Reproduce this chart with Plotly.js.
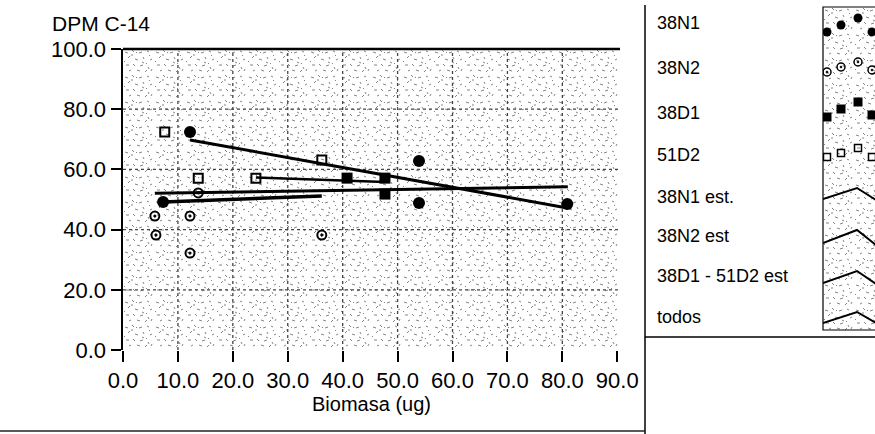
<!DOCTYPE html>
<html>
<head>
<meta charset="utf-8">
<script src="https://cdn.plot.ly/plotly-3.0.1.min.js"></script>
<style>html,body{margin:0;padding:0;background:#fff;}#chart{width:875px;height:434px;}</style>
</head>
<body>
<div id="chart"></div>
<script>
// ---- data ----
const x38N1 = [7.3, 12.2, 53.9, 53.9, 80.9];
const y38N1 = [49.2, 72.4, 62.8, 48.8, 48.5];
const x38N2 = [5.8, 6.0, 12.2, 12.2, 13.7, 36.2];
const y38N2 = [44.5, 38.2, 44.5, 32.2, 52.2, 38.2];
const x38D1 = [40.8, 47.7, 47.7];
const y38D1 = [57.1, 57.1, 51.8];
const x51D2 = [7.6, 13.7, 24.2, 36.2];
const y51D2 = [72.4, 57.1, 57.1, 63.1];

const xEst38N1 = [12.2, 80.9];
const yEst38N1 = [69.8, 47.2];
const xEst38N2 = [7.3, 36.2];
const yEst38N2 = [49.2, 51.2];
const xEst38D1_51D2 = [24.2, 47.7];
const yEst38D1_51D2 = [57.3, 55.8];
const xTodos = [5.8, 81.0];
const yTodos = [52.1, 54.2];

const xTickVals = [0, 10, 20, 30, 40, 50, 60, 70, 80, 90];
const xTickText = ['0.0','10.0','20.0','30.0','40.0','50.0','60.0','70.0','80.0','90.0'];
const yTickVals = [0, 20, 40, 60, 80, 100];
const yTickText = ['0.0','20.0','40.0','60.0','80.0','100.0'];

const legendNames = ['38N1','38N2','38D1','51D2','38N1 est.','38N2 est','38D1 - 51D2 est','todos'];

// legend swatch sample shapes (pixel space of the swatch box)
const swMarkX = [827, 841, 858, 872];
const swY38N1 = [32, 25, 18, 32];
const swY38N2 = [72, 67, 62, 70];
const swY38D1 = [117, 109, 102, 115];
const swY51D2 = [157, 153, 148, 157];
const swLineX = [823, 857, 876];
const swYEst38N1 = [199, 188, 200];
const swYEst38N2 = [243, 230, 245];
const swYEst38D1 = [283, 271, 284];
const swYTodos = [323, 312, 323];

// ---- styling ----
const FONT = 'Liberation Sans, Arial, sans-serif';
const W = 875, H = 434;
const PL = 123, PR = 620, PT = 49, PB = 350;
const px = v => v / W;
const py = v => (H - v) / H;

function texture(w, h) {
  const tile = 'M2 3l3 1M9 1l2 2M16 4l3-1M24 2l2 1M5 9l2-2M12 10l3 1M20 8l1 2M27 11l2-1' +
               'M3 16l3 0M10 15l2 2M17 17l3-1M25 18l1 2M6 22l2-1M14 21l3 1M22 23l2-2M29 20l-1 2' +
               'M1 12l1 1M8 6l2 0M19 13l2 1M26 6l1 1M13 3l1 1M23 15l1-1';
  const svg = '<svg xmlns="http://www.w3.org/2000/svg" width="' + w + '" height="' + h + '">' +
    '<defs><pattern id="p" width="31" height="25" patternUnits="userSpaceOnUse">' +
    '<path d="' + tile + '" stroke="#777" stroke-width="0.9" fill="none"/></pattern></defs>' +
    '<rect width="100%" height="100%" fill="#fff"/><rect width="100%" height="100%" fill="url(#p)"/></svg>';
  return 'data:image/svg+xml;charset=utf-8,' + encodeURIComponent(svg);
}

const traces = [
  {x: xEst38N1, y: yEst38N1, mode: 'lines', name: legendNames[4], line: {color: '#000', width: 3}},
  {x: xEst38N2, y: yEst38N2, mode: 'lines', name: legendNames[5], line: {color: '#000', width: 3.5}},
  {x: xEst38D1_51D2, y: yEst38D1_51D2, mode: 'lines', name: legendNames[6], line: {color: '#000', width: 2.5}},
  {x: xTodos, y: yTodos, mode: 'lines', name: legendNames[7], line: {color: '#000', width: 3}},
  {x: x38N1, y: y38N1, mode: 'markers', name: legendNames[0], marker: {symbol: 'circle', size: 12, color: '#000'}},
  {x: x38N2, y: y38N2, mode: 'markers', name: legendNames[1], marker: {symbol: 'circle-open-dot', size: 9, color: '#000', line: {width: 2, color: '#000'}}},
  {x: x38D1, y: y38D1, mode: 'markers', name: legendNames[2], marker: {symbol: 'square', size: 11, color: '#000'}},
  {x: x51D2, y: y51D2, mode: 'markers', name: legendNames[3], marker: {symbol: 'square-open', size: 9, color: '#000', line: {width: 2, color: '#000'}}},
  // legend swatches
  {x: swMarkX, y: swY38N1, xaxis: 'x2', yaxis: 'y2', mode: 'markers', marker: {symbol: 'circle', size: 9, color: '#000'}},
  {x: swMarkX, y: swY38N2, xaxis: 'x2', yaxis: 'y2', mode: 'markers', marker: {symbol: 'circle-open-dot', size: 8, color: '#000', line: {width: 1.5, color: '#000'}}},
  {x: swMarkX, y: swY38D1, xaxis: 'x2', yaxis: 'y2', mode: 'markers', marker: {symbol: 'square', size: 9, color: '#000'}},
  {x: swMarkX, y: swY51D2, xaxis: 'x2', yaxis: 'y2', mode: 'markers', marker: {symbol: 'square-open', size: 7, color: '#000', line: {width: 1.5, color: '#000'}}},
  {x: swLineX, y: swYEst38N1, xaxis: 'x2', yaxis: 'y2', mode: 'lines', line: {color: '#000', width: 2}},
  {x: swLineX, y: swYEst38N2, xaxis: 'x2', yaxis: 'y2', mode: 'lines', line: {color: '#000', width: 2}},
  {x: swLineX, y: swYEst38D1, xaxis: 'x2', yaxis: 'y2', mode: 'lines', line: {color: '#000', width: 2}},
  {x: swLineX, y: swYTodos, xaxis: 'x2', yaxis: 'y2', mode: 'lines', line: {color: '#000', width: 2}}
];

const shapes = [];
for (let v = 10; v <= 80; v += 10) {
  shapes.push({type: 'line', xref: 'x', yref: 'y', x0: v, x1: v, y0: 0, y1: 100, layer: 'below',
    line: {color: '#444', width: 1.3, dash: 'dot'}});
}
for (let v = 20; v <= 80; v += 20) {
  shapes.push({type: 'line', xref: 'x', yref: 'y', x0: 0, x1: 90.5, y0: v, y1: v, layer: 'below',
    line: {color: '#444', width: 1.3, dash: 'dot'}});
}
shapes.push({type: 'line', xref: 'paper', yref: 'paper', x0: px(PL), x1: px(PR), y0: py(PT), y1: py(PT), line: {color: '#000', width: 2.5}});
shapes.push({type: 'line', xref: 'paper', yref: 'paper', x0: px(645), x1: px(645), y0: 0, y1: py(5), line: {color: '#000', width: 1.5}});
shapes.push({type: 'line', xref: 'paper', yref: 'paper', x0: px(645), x1: 1, y0: py(337), y1: py(337), line: {color: '#000', width: 1.5}});
shapes.push({type: 'line', xref: 'paper', yref: 'paper', x0: 0, x1: px(645), y0: py(431), y1: py(431), line: {color: '#222', width: 1.5}});
shapes.push({type: 'rect', xref: 'paper', yref: 'paper', x0: px(823), x1: px(880), y0: py(330), y1: py(7), line: {color: '#000', width: 1.2}});

const legendRowsY = [23, 68, 113, 155, 197, 236, 276, 317];
const annotations = legendNames.map((t, i) => ({
  text: t, xref: 'paper', yref: 'paper', x: px(655), y: py(legendRowsY[i]),
  xanchor: 'left', yanchor: 'middle', showarrow: false, font: {family: FONT, size: 18, color: '#000'}
}));
annotations.push({text: 'DPM C-14', xref: 'paper', yref: 'paper', x: px(50), y: py(24),
  xanchor: 'left', yanchor: 'middle', showarrow: false, font: {family: FONT, size: 21, color: '#000'}});

const layout = {
  width: W, height: H,
  margin: {l: 0, r: 0, t: 0, b: 0, pad: 0},
  paper_bgcolor: '#fff', plot_bgcolor: 'rgba(0,0,0,0)',
  showlegend: false,
  font: {family: FONT, color: '#000'},
  xaxis: {
    domain: [px(PL), px(PR)], range: [0, 90.5], tickvals: xTickVals, ticktext: xTickText,
    ticks: 'outside', ticklen: 11, tickwidth: 2, tickcolor: '#000',
    showgrid: false, zeroline: false, showline: false, fixedrange: true,
    tickfont: {family: FONT, size: 22, color: '#000'},
    title: {text: 'Biomasa (ug)', font: {family: FONT, size: 20, color: '#000'}, standoff: 4},
    automargin: false
  },
  yaxis: {
    domain: [(H - PB) / H, (H - PT) / H], range: [0, 100], tickvals: yTickVals, ticktext: yTickText,
    ticks: 'outside', ticklen: 10, tickwidth: 2, tickcolor: '#000',
    showgrid: false, zeroline: false, showline: true, linewidth: 2.5, linecolor: '#000', fixedrange: true,
    tickfont: {family: FONT, size: 22, color: '#000'}, automargin: false
  },
  xaxis2: {domain: [px(823), 1], range: [823, 875], visible: false, anchor: 'y2', fixedrange: true},
  yaxis2: {domain: [0, 1], range: [434, 0], visible: false, anchor: 'x2', fixedrange: true},
  images: [
    {source: texture(497, 301), xref: 'paper', yref: 'paper', x: px(PL), y: py(PT), sizex: (PR - PL) / W, sizey: (PB - PT) / H,
     xanchor: 'left', yanchor: 'top', sizing: 'stretch', layer: 'below'},
    {source: texture(53, 323), xref: 'paper', yref: 'paper', x: px(823), y: py(7), sizex: 53 / W, sizey: 323 / H,
     xanchor: 'left', yanchor: 'top', sizing: 'stretch', layer: 'below'}
  ],
  shapes: shapes,
  annotations: annotations
};

Plotly.newPlot('chart', traces, layout, {displayModeBar: false, staticPlot: true});
</script>
</body>
</html>
